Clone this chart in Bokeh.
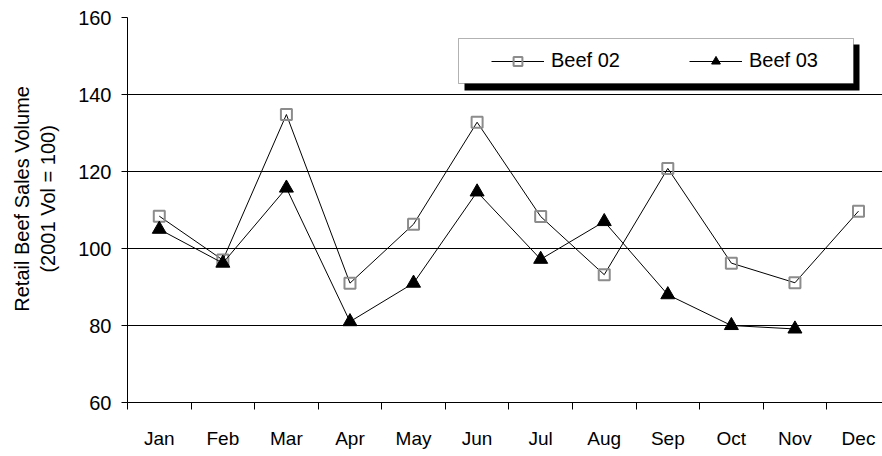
from bokeh.plotting import figure
from bokeh.models import (Range1d, FixedTicker, Legend, LegendItem, BoxAnnotation)
from bokeh.embed import file_html
from bokeh.resources import INLINE

months = ["Jan", "Feb", "Mar", "Apr", "May", "Jun", "Jul", "Aug", "Sep", "Oct", "Nov", "Dec"]
beef02 = [108.4, 97, 134.8, 91, 106.3, 132.8, 108.3, 93.2, 120.8, 96.2, 91.1, 109.7]
beef03 = [105, 96.2, 115.7, 81, 91, 114.7, 97.2, 107, 88, 80, 79.1]
y_ticks = [60, 80, 100, 120, 140, 160]
y_title = ["Retail Beef Sales Volume", "(2001 Vol = 100)"]

FONT = "Liberation Sans"

x02 = [i + 0.5 for i in range(len(beef02))]
x03 = [i + 0.5 for i in range(len(beef03))]

W, H = 882, 456
BL, BR, BT, BB = 127, 0, 17, 54
fw = W - BL - BR
fh = H - BT - BB
XMAX = fw / ((858 - BL) / 11.5)
p = figure(width=W, height=H, output_backend="svg", toolbar_location=None,
           x_range=Range1d(0, XMAX), y_range=Range1d(60, 160),
           min_border_left=BL, min_border_right=BR, min_border_top=BT, min_border_bottom=BB)
p.outline_line_color = None
p.background_fill_color = "white"
p.border_fill_color = "white"

# grid
p.xgrid.visible = False
p.ygrid.ticker = FixedTicker(ticks=y_ticks)
p.ygrid.grid_line_color = "black"
p.ygrid.grid_line_width = 1

# y axis
ya = p.yaxis[0]
ya.ticker = FixedTicker(ticks=y_ticks)
ya.axis_line_color = "black"
ya.major_tick_line_color = "black"
ya.major_tick_out = 6
ya.major_tick_in = 0
ya.minor_tick_line_color = None
ya.major_label_standoff = 10
ya.major_label_text_font = FONT
ya.major_label_text_font_size = "20px"
ya.major_label_text_color = "black"
# leading no-break spaces shift the centred title up, as in the reference
pad = "\u00a0" * 4
ya.axis_label = "\n".join(pad + t for t in y_title)
ya.axis_label_text_font = FONT
ya.axis_label_text_font_size = "20px"
ya.axis_label_text_font_style = "normal"
ya.axis_label_text_color = "black"
ya.axis_label_standoff = 16

# x axis: labels at category centres, ticks at boundaries
xa = p.xaxis[0]
centers = [i + 0.5 for i in range(len(months))]
xa.ticker = FixedTicker(ticks=centers, minor_ticks=list(range(len(months) + 1)))
xa.major_label_overrides = {c: m for c, m in zip(centers, months)}
xa.axis_line_color = "black"
xa.major_tick_out = 0
xa.major_tick_in = 0
xa.major_tick_line_color = None
xa.minor_tick_line_color = "black"
xa.minor_tick_out = 7
xa.minor_tick_in = 0
xa.major_label_standoff = 18
xa.major_label_text_font = FONT
xa.major_label_text_font_size = "19px"
xa.major_label_text_color = "black"

# series
l02 = p.line(x02, beef02, line_color="black", line_width=1)
s02 = p.scatter(x02, beef02, marker="square", size=11, fill_color=None,
                line_color="#8c8c8c", line_width=2)
l03 = p.line(x03, beef03, line_color="black", line_width=1)
s03 = p.scatter(x03, beef03, marker="triangle", size=14, fill_color="black",
                line_color="black", line_width=1)

# pixel -> data helpers for decorations
FL, FT = BL, BT
def px2x(px):
    return (px - FL) / fw * XMAX
def py2y(py):
    return 160 - (py - FT) / fh * 100

# legend box with shadow
shadow = BoxAnnotation(left=px2x(464), right=px2x(859), top=py2y(44), bottom=py2y(90),
                       fill_color="black", fill_alpha=1, line_color=None)
box = BoxAnnotation(left=px2x(458), right=px2x(853), top=py2y(38), bottom=py2y(83),
                    fill_color="white", fill_alpha=1, line_color="black", line_width=1)
p.add_layout(shadow)
p.add_layout(box)

legend = Legend(items=[LegendItem(label="Beef 02", renderers=[l02, s02]),
                       LegendItem(label="Beef 03", renderers=[l03, s03])],
                orientation="horizontal", location=(491 - FL, 330),
                padding=0, margin=0, spacing=0, glyph_width=53, glyph_height=22,
                label_standoff=7, label_width=138, label_height=22,
                label_text_font=FONT, label_text_font_size="20px", label_text_color="black",
                border_line_color=None, background_fill_alpha=0)
p.add_layout(legend)

open("out.html", "w").write(file_html(p, INLINE))
